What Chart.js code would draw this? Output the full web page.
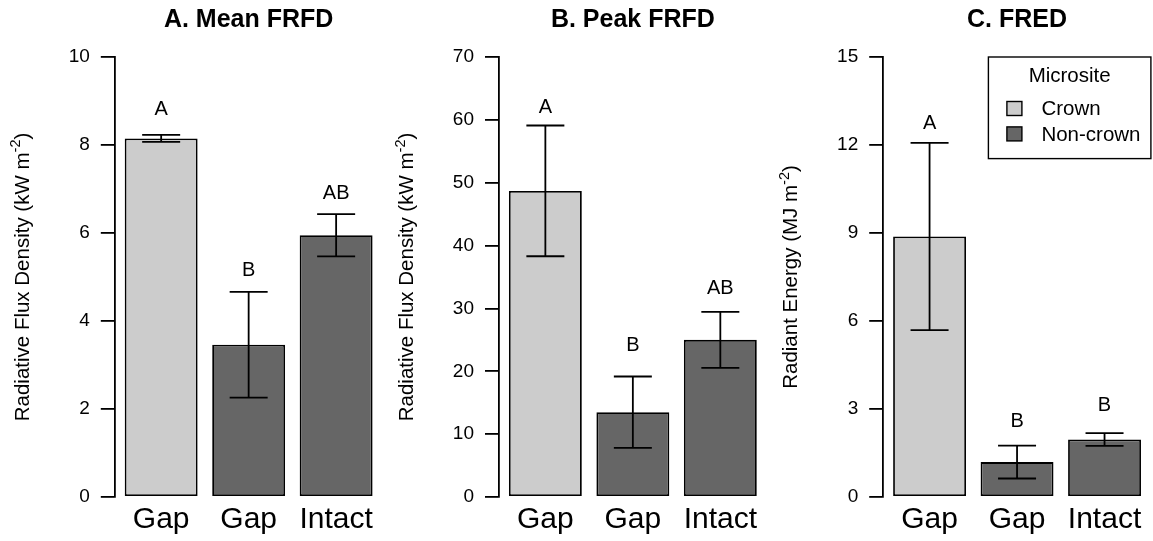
<!DOCTYPE html>
<html>
<head>
<meta charset="utf-8">
<script src="https://cdn.jsdelivr.net/npm/chart.js@4.4.1/dist/chart.umd.min.js"></script>
<style>
  html, body { margin: 0; padding: 0; background: #ffffff; }
  #wrap { position: relative; width: 1153px; height: 541px; background: #ffffff; }
  #wrap canvas { position: absolute; left: 0; top: 0; }
</style>
</head>
<body>
<div id="wrap">
  <canvas id="panelA" width="1153" height="541"></canvas>
  <canvas id="panelB" width="1153" height="541"></canvas>
  <canvas id="panelC" width="1153" height="541"></canvas>
</div>
<script>
// ---- data ----
const groups = ['Gap', 'Gap', 'Intact'];
const microsite = ['Crown', 'Non-crown', 'Non-crown'];
const micrositeLevels = ['Crown', 'Non-crown'];

// A. mean fire radiative flux density (kW m-2)
const meanFRFD = [8.15, 3.46, 5.95];
const seMeanFRFD = [0.08, 1.20, 0.48];
const lettersMeanFRFD = ['A', 'B', 'AB'];
const letterHeightMeanFRFD = [8.85, 5.18, 6.93];
const ticksMeanFRFD = [0, 2, 4, 6, 8, 10];

// B. peak fire radiative flux density (kW m-2)
const peakFRFD = [48.7, 13.5, 25.0];
const sePeakFRFD = [10.4, 5.67, 4.45];
const lettersPeakFRFD = ['A', 'B', 'AB'];
const letterHeightPeakFRFD = [62.2, 24.4, 33.5];
const ticksPeakFRFD = [0, 10, 20, 30, 40, 50, 60, 70];

// C. fire radiative energy density (MJ m-2)
const fred = [8.88, 1.19, 1.96];
const seFred = [3.19, 0.56, 0.22];
const lettersFred = ['A', 'B', 'B'];
const letterHeightFred = [12.8, 2.63, 3.17];
const ticksFred = [0, 3, 6, 9, 12, 15];

// ---- styling / layout ----
const FONT = '"Liberation Sans", Arial, Helvetica, sans-serif';
const fillFor = { 'Crown': '#cccccc', 'Non-crown': '#666666' };
const BAR_X = [0.7, 1.9, 3.1];        // bar centres in barplot units (width 1, space 0.2)
const X_MIN = 0.064, X_MAX = 3.736;
const PLOT_TOP = 57, PLOT_BOTTOM = 497, PLOT_W = 267.7;
const Y_AXIS_W = 100, X_AXIS_H = 40;
const CAP_HALF = 19;
const LINE_W = 1.8;

Chart.defaults.font.family = FONT;
Chart.defaults.color = '#000000';

function drawYTitle(ctx, x, cy, main, sup, tail) {
  const big = '20.5px ' + FONT, small = '14.5px ' + FONT;
  ctx.save();
  ctx.font = big;
  const wMain = ctx.measureText(main).width;
  const wTail = ctx.measureText(tail).width;
  ctx.font = small;
  const wSup = ctx.measureText(sup).width;
  const total = wMain + wSup + wTail;
  ctx.translate(x, cy);
  ctx.rotate(-Math.PI / 2);
  ctx.textBaseline = 'alphabetic';
  ctx.textAlign = 'left';
  ctx.fillStyle = '#000';
  let pos = -total / 2;
  ctx.font = big;
  ctx.fillText(main, pos, 0); pos += wMain;
  ctx.font = small;
  ctx.fillText(sup, pos, -8.5); pos += wSup;
  ctx.font = big;
  ctx.fillText(tail, pos, 0);
  ctx.restore();
}

function panelPlugin(cfg) {
  return {
    id: 'panelExtras' + cfg.key,
    afterDatasetsDraw(chart) {
      const ctx = chart.ctx;
      const xs = chart.scales.x, ys = chart.scales.y;
      const area = chart.chartArea;
      ctx.save();
      // error bars (mean +/- SE)
      ctx.strokeStyle = '#000';
      ctx.lineWidth = LINE_W;
      cfg.values.forEach((v, i) => {
        const px = xs.getPixelForValue(BAR_X[i]);
        const yHi = ys.getPixelForValue(v + cfg.se[i]);
        const yLo = ys.getPixelForValue(v - cfg.se[i]);
        ctx.beginPath();
        ctx.moveTo(px, yHi); ctx.lineTo(px, yLo);
        ctx.moveTo(px - CAP_HALF, yHi); ctx.lineTo(px + CAP_HALF, yHi);
        ctx.moveTo(px - CAP_HALF, yLo); ctx.lineTo(px + CAP_HALF, yLo);
        ctx.stroke();
      });
      // significance letters
      ctx.fillStyle = '#000';
      ctx.font = '20px ' + FONT;
      ctx.textAlign = 'center';
      ctx.textBaseline = 'alphabetic';
      cfg.letters.forEach((t, i) => {
        const px = xs.getPixelForValue(BAR_X[i]);
        const py = ys.getPixelForValue(cfg.letterHeights[i]);
        ctx.fillText(t, px, py + 7.2);
      });
      // panel title
      ctx.font = 'bold 25px ' + FONT;
      ctx.fillText(cfg.title, (area.left + area.right) / 2, 26.5);
      ctx.restore();
      // y axis title
      drawYTitle(ctx, area.left - 86, (area.top + area.bottom) / 2, cfg.yTitle[0], cfg.yTitle[1], cfg.yTitle[2]);
      // legend
      if (cfg.legend) {
        const right = area.right, top = area.top;
        const w = 162.5, h = 101.6, left = right - w;
        ctx.save();
        ctx.fillStyle = '#fff';
        ctx.fillRect(left, top, w, h);
        ctx.strokeStyle = '#000';
        ctx.lineWidth = 1.4;
        ctx.strokeRect(left, top, w, h);
        ctx.fillStyle = '#000';
        ctx.font = '20.5px ' + FONT;
        ctx.textAlign = 'center';
        ctx.textBaseline = 'middle';
        ctx.fillText('Microsite', left + w / 2, top + 19);
        ctx.textAlign = 'left';
        micrositeLevels.forEach((lvl, k) => {
          const cy = top + 51.5 + k * 25.4;
          ctx.fillStyle = fillFor[lvl];
          ctx.fillRect(left + 18.5, cy - 7, 15, 14);
          ctx.strokeStyle = '#000';
          ctx.lineWidth = 1.4;
          ctx.strokeRect(left + 18.5, cy - 7, 15, 14);
          ctx.fillStyle = '#000';
          ctx.fillText(lvl, left + 53, cy + 1);
        });
        ctx.restore();
      }
    }
  };
}

function makePanel(canvasId, plotLeft, cfg) {
  const tickVals = cfg.ticks;
  new Chart(document.getElementById(canvasId), {
    type: 'bar',
    data: {
      datasets: [{
        data: cfg.values.map((v, i) => ({ x: BAR_X[i], y: v })),
        backgroundColor: microsite.map(m => fillFor[m]),
        borderColor: '#000000',
        borderWidth: LINE_W,
        borderSkipped: false,
        barPercentage: 1 / 1.2,
        categoryPercentage: 1
      }]
    },
    options: {
      responsive: false,
      animation: false,
      devicePixelRatio: 1,
      layout: {
        padding: {
          left: plotLeft - Y_AXIS_W,
          right: 1153 - (plotLeft + PLOT_W),
          top: PLOT_TOP,
          bottom: 541 - PLOT_BOTTOM - X_AXIS_H
        }
      },
      plugins: { legend: { display: false }, tooltip: { enabled: false }, title: { display: false } },
      scales: {
        x: {
          type: 'linear',
          min: X_MIN, max: X_MAX,
          bounds: 'data',
          offset: false,
          grid: { display: false, drawTicks: false },
          border: { display: false },
          afterBuildTicks(axis) { axis.ticks = BAR_X.map(v => ({ value: v })); },
          afterFit(axis) { axis.height = X_AXIS_H; },
          ticks: {
            autoSkip: false, maxRotation: 0, minRotation: 0,
            padding: 8,
            color: '#000',
            font: { size: 30, lineHeight: 1 },
            callback: (v, i) => groups[i]
          }
        },
        y: {
          type: 'linear',
          min: tickVals[0], max: tickVals[tickVals.length - 1],
          afterBuildTicks(axis) { axis.ticks = tickVals.map(v => ({ value: v })); },
          afterFit(axis) { axis.width = Y_AXIS_W; },
          grid: { drawOnChartArea: false, drawTicks: true, tickLength: 14, color: '#000', lineWidth: LINE_W },
          border: { display: true, color: '#000', width: LINE_W },
          ticks: { padding: 11, color: '#000', font: { size: 19 } }
        }
      }
    },
    plugins: [panelPlugin(cfg)]
  });
}

makePanel('panelA', 114.8, {
  key: 'A', title: 'A. Mean FRFD',
  values: meanFRFD, se: seMeanFRFD, letters: lettersMeanFRFD, letterHeights: letterHeightMeanFRFD,
  ticks: ticksMeanFRFD, yTitle: ['Radiative Flux Density (kW m', '-2', ')'], legend: false
});
makePanel('panelB', 499.0, {
  key: 'B', title: 'B. Peak FRFD',
  values: peakFRFD, se: sePeakFRFD, letters: lettersPeakFRFD, letterHeights: letterHeightPeakFRFD,
  ticks: ticksPeakFRFD, yTitle: ['Radiative Flux Density (kW m', '-2', ')'], legend: false
});
makePanel('panelC', 883.2, {
  key: 'C', title: 'C. FRED',
  values: fred, se: seFred, letters: lettersFred, letterHeights: letterHeightFred,
  ticks: ticksFred, yTitle: ['Radiant Energy (MJ m', '-2', ')'], legend: true
});
</script>
</body>
</html>
